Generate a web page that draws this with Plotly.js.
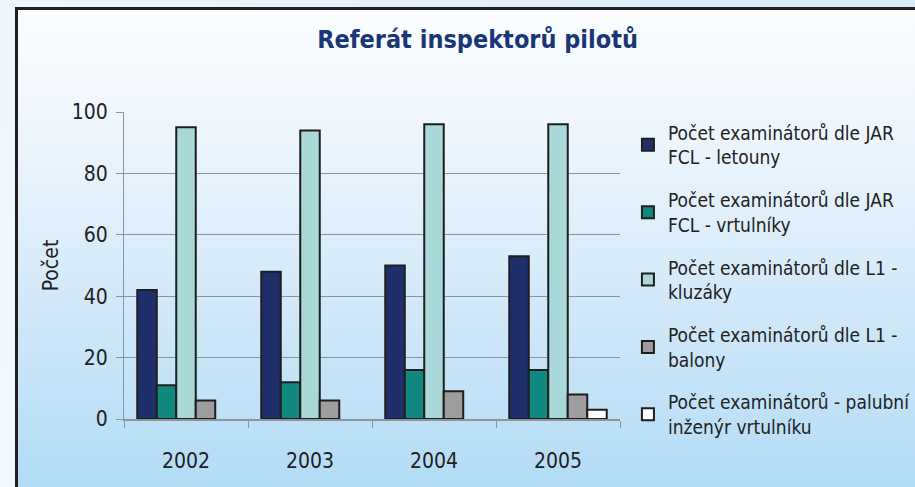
<!DOCTYPE html>
<html>
<head>
<meta charset="utf-8">
<script src="https://cdn.plot.ly/plotly-3.0.1.min.js"></script>
<style>
  html, body { margin: 0; padding: 0; }
  #wrap { position: relative; width: 915px; height: 487px; overflow: hidden;
          background: linear-gradient(to right, #eef6fd, #d6eaf8); }
  #frame { position: absolute; left: 15px; top: 7px; right: 0; bottom: 0;
           border-left: 3px solid #231f20; border-top: 3px solid #231f20;
           background: linear-gradient(to bottom, #fbfdff 0%, #eef6fd 25%, #d3e9f9 60%, #b2dcf6 100%); }
  #leftstrip { position:absolute; left:0; top:7px; width:15px; bottom:0;
           background: linear-gradient(to bottom, #eef6fd, #f2f9ff); }
  #chart { position: absolute; left: 0; top: 0; width: 915px; height: 487px; }
</style>
</head>
<body>
<div id="wrap">
  <div id="leftstrip"></div>
  <div id="frame"></div>
  <div id="chart"></div>
</div>
<script>
const years = ['2002', '2003', '2004', '2005'];
const letouny = [42, 48, 50, 53];
const vrtulniky = [11, 12, 16, 16];
const kluzaky = [95, 94, 96, 96];
const balony = [6, 6, 9, 8];
const palubni = [null, null, null, 3];

const seriesNames = [
  'Počet examinátorů dle JAR<br>FCL - letouny',
  'Počet examinátorů dle JAR<br>FCL - vrtulníky',
  'Počet examinátorů dle L1 -<br>kluzáky',
  'Počet examinátorů dle L1 -<br>balony',
  'Počet examinátorů - palubní<br>inženýr vrtulníku'
];
const yTickVals = [0, 20, 40, 60, 80, 100];

const FONT = '"DejaVu Sans Condensed", "Liberation Sans Narrow", sans-serif';
const colors = ['#1f2f6c', '#10877f', '#a9d8d8', '#9d9d9f', '#ffffff'];
const seriesValues = [letouny, vrtulniky, kluzaky, balony, palubni];

const traces = seriesValues.map((vals, i) => ({
  type: 'bar',
  x: years,
  y: vals,
  name: seriesNames[i],
  legendgroup: 'g' + i,
  marker: { color: colors[i], line: { color: '#1e1e1e', width: 2 } },
  hoverinfo: 'x+y+name'
}));

const layout = {
  width: 915, height: 487,
  paper_bgcolor: 'rgba(0,0,0,0)',
  plot_bgcolor: 'rgba(0,0,0,0)',
  margin: { l: 124, r: 295, t: 112, b: 68, autoexpand: false },
  font: { family: FONT, size: 20, color: '#222' },
  title: {
    text: '<b>Referát inspektorů pilotů</b>',
    font: { family: FONT, size: 25, color: '#1b3675' },
    x: 0.522, xanchor: 'center', y: 0.92, yanchor: 'middle'
  },
  barmode: 'group',
  bargap: 0.214,
  bargroupgap: 0,
  xaxis: {
    type: 'category',
    showline: true, linecolor: '#8a959c', linewidth: 1.5,
    ticks: 'outside', tickson: 'boundaries', ticklen: 7, tickcolor: '#8a959c', tickwidth: 1,
    ticklabelstandoff: 22,
    tickfont: { family: FONT, size: 21, color: '#222' },
    showgrid: false, zeroline: false
  },
  yaxis: {
    range: [0, 100],
    tickvals: yTickVals,
    ticktext: yTickVals.map(String),
    showline: true, linecolor: '#8a959c', linewidth: 1,
    ticks: 'outside', ticklen: 7, tickcolor: '#8a959c',
    showgrid: true, gridcolor: '#8a959c', gridwidth: 1.2,
    zeroline: false,
    tickfont: { family: FONT, size: 21, color: '#222' },
    ticklabelstandoff: 4,
    title: { text: 'Počet', font: { family: FONT, size: 21, color: '#222' }, standoff: 7 }
  },
  legend: {
    x: 1.016, xanchor: 'left', y: 0.995, yanchor: 'top',
    font: { family: FONT, size: 19, color: '#222' },
    bgcolor: 'rgba(0,0,0,0)',
    tracegroupgap: 15,
    itemwidth: 30,
    maxheight: 480,
    traceorder: 'grouped'
  },
  showlegend: true
};

Plotly.newPlot('chart', traces, layout, { displayModeBar: false, staticPlot: true });
</script>
</body>
</html>
